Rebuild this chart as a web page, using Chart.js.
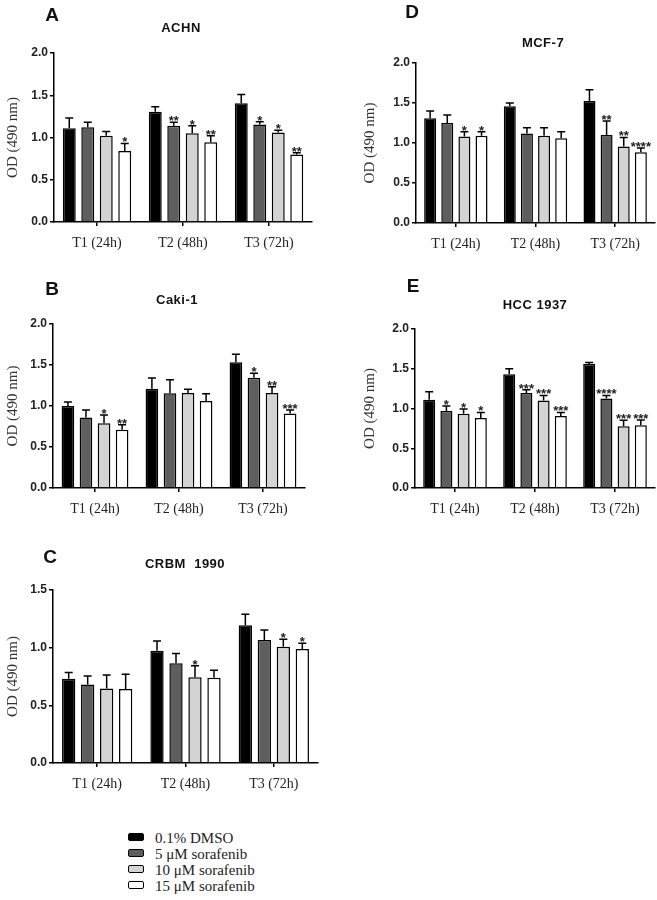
<!DOCTYPE html>
<html>
<head>
<meta charset="utf-8">
<script src="https://cdn.jsdelivr.net/npm/chart.js@4/dist/chart.umd.min.js"></script>
<style>
  html, body { margin: 0; padding: 0; background: #fff; }
  body { width: 657px; height: 900px; position: relative; overflow: hidden; }
  .panel { position: absolute; }
  .legend { position: absolute; left: 128px; top: 830px; font: 15px "Liberation Serif", serif; color: #222; }
  .legend div { height: 16px; line-height: 16px; white-space: nowrap; }
  .legend span { display: inline-block; width: 14px; height: 6px; border: 1.5px solid #000; border-radius: 2px; margin-right: 11px; vertical-align: 2px; }
</style>
</head>
<body>
<div class="legend" id="legend"></div>
<script>
'use strict';

// time points and treatments
var timeLabels = ['T1 (24h)', 'T2 (48h)', 'T3 (72h)'];
var treatments = ['0.1% DMSO', '5 \u03bcM sorafenib', '10 \u03bcM sorafenib', '15 \u03bcM sorafenib'];

// rows = treatments, columns = time points (OD 490 nm, mean / error, significance)
var achnMean = [[1.11, 1.305, 1.405], [1.12, 1.14, 1.155], [1.02, 1.05, 1.06], [0.84, 0.945, 0.80]];
var achnErr  = [[0.12, 0.06, 0.105], [0.06, 0.04, 0.03], [0.05, 0.09, 0.025], [0.09, 0.075, 0.02]];
var achnSig  = [['', '', ''], ['', '**', '*'], ['', '*', '*'], ['*', '**', '**']];

var cakiMean = [[1.00, 1.21, 1.535], [0.86, 1.155, 1.345], [0.79, 1.16, 1.16], [0.71, 1.06, 0.91]];
var cakiErr  = [[0.05, 0.13, 0.095], [0.09, 0.165, 0.055], [0.10, 0.045, 0.075], [0.06, 0.09, 0.04]];
var cakiSig  = [['', '', ''], ['', '', '*'], ['*', '', '**'], ['**', '', '***']];

var crbmMean = [[0.73, 0.973, 1.195], [0.68, 0.864, 1.066], [0.645, 0.743, 1.008], [0.642, 0.74, 0.988]];
var crbmErr  = [[0.055, 0.085, 0.095], [0.075, 0.086, 0.087], [0.118, 0.10, 0.064], [0.128, 0.065, 0.05]];
var crbmSig  = [['', '', ''], ['', '', ''], ['', '*', '*'], ['', '', '*']];

var mcfMean = [[1.31, 1.46, 1.525], [1.25, 1.12, 1.10], [1.08, 1.09, 0.955], [1.09, 1.06, 0.884]];
var mcfErr  = [[0.09, 0.04, 0.14], [0.10, 0.07, 0.175], [0.06, 0.10, 0.115], [0.05, 0.08, 0.055]];
var mcfSig  = [['', '', ''], ['', '', '**'], ['*', '', '**'], ['*', '', '****']];

var hccMean = [[1.11, 1.43, 1.56], [0.97, 1.195, 1.125], [0.935, 1.10, 0.776], [0.88, 0.905, 0.79]];
var hccErr  = [[0.10, 0.07, 0.02], [0.06, 0.04, 0.04], [0.06, 0.065, 0.075], [0.07, 0.045, 0.065]];
var hccSig  = [['', '', ''], ['*', '***', '****'], ['*', '***', '***'], ['*', '***', '***']];

var barColors = ['#000000', '#5e5e5e', '#d3d3d3', '#ffffff'];

// panel layout (page pixels)
var panels = [
  { letter: 'A', name: 'ACHN', mean: achnMean, err: achnErr, sig: achnSig, max: 2,
    box: [0, 0, 322, 258], area: [54, 53, 312, 222], letterAt: [52, 16], nameAt: [181, 28] },
  { letter: 'B', name: 'Caki-1', mean: cakiMean, err: cakiErr, sig: cakiSig, max: 2,
    box: [0, 262, 322, 258], area: [53, 324, 305, 488], letterAt: [52, 290], nameAt: [177, 300] },
  { letter: 'C', name: 'CRBM  1990', mean: crbmMean, err: crbmErr, sig: crbmSig, max: 1.5,
    box: [0, 528, 330, 272], area: [53, 590, 318, 763], letterAt: [50, 558], nameAt: [185, 564] },
  { letter: 'D', name: 'MCF-7', mean: mcfMean, err: mcfErr, sig: mcfSig, max: 2,
    box: [357, 0, 300, 258], area: [416, 63, 655, 223], letterAt: [412, 13], nameAt: [543, 43] },
  { letter: 'E', name: 'HCC 1937', mean: hccMean, err: hccErr, sig: hccSig, max: 2,
    box: [357, 262, 300, 258], area: [415, 329, 655, 488], letterAt: [413, 287], nameAt: [535, 305] }
];

var decoPlugin = {
  id: 'deco',
  afterDatasetsDraw: function(chart, args, opts) {
    var ctx = chart.ctx;
    var y = chart.scales.y;
    ctx.save();
    // error bars (upper only) and significance marks
    chart.data.datasets.forEach(function(ds, i) {
      var meta = chart.getDatasetMeta(i);
      meta.data.forEach(function(bar, j) {
        var top = y.getPixelForValue(ds.data[j] + ds.errors[j]);
        ctx.strokeStyle = '#000';
        ctx.lineWidth = 1.5;
        ctx.beginPath();
        ctx.moveTo(bar.x, bar.y);
        ctx.lineTo(bar.x, top);
        ctx.moveTo(bar.x - 4, top);
        ctx.lineTo(bar.x + 4, top);
        ctx.stroke();
        if (ds.marks[j]) {
          ctx.fillStyle = '#222';
          ctx.font = 'bold 13px "Liberation Sans", Arial, sans-serif';
          ctx.textAlign = 'center';
          ctx.textBaseline = 'alphabetic';
          ctx.fillText(ds.marks[j], bar.x, top + 3);
        }
      });
    });
    // panel letter and cell line name
    ctx.fillStyle = '#111';
    ctx.textAlign = 'center';
    ctx.textBaseline = 'middle';
    ctx.font = 'bold 19px "Liberation Sans", Arial, sans-serif';
    ctx.fillText(opts.letter, opts.letterAt[0], opts.letterAt[1]);
    ctx.font = 'bold 13px "Liberation Sans", Arial, sans-serif';
    ctx.letterSpacing = '0.5px';
    ctx.fillText(opts.name, opts.nameAt[0], opts.nameAt[1]);
    ctx.restore();
  }
};

function makePanel(p) {
  var bx = p.box[0], by = p.box[1], bw = p.box[2], bh = p.box[3];
  var holder = document.createElement('div');
  holder.className = 'panel';
  holder.style.left = bx + 'px';
  holder.style.top = by + 'px';
  var canvas = document.createElement('canvas');
  canvas.width = bw;
  canvas.height = bh;
  holder.appendChild(canvas);
  document.body.appendChild(holder);

  var yWidth = p.area[0] - bx;
  var xHeight = by + bh - p.area[3];

  new Chart(canvas, {
    type: 'bar',
    data: {
      labels: timeLabels,
      datasets: treatments.map(function(t, i) {
        return {
          label: t,
          data: p.mean[i],
          errors: p.err[i],
          marks: p.sig[i],
          backgroundColor: barColors[i],
          borderColor: '#000',
          borderWidth: 1.5,
          categoryPercentage: 0.86,
          barPercentage: 0.7
        };
      })
    },
    options: {
      responsive: false,
      animation: false,
      devicePixelRatio: 1,
      layout: { padding: { top: p.area[1] - by, right: bx + bw - p.area[2], left: 0, bottom: 0 } },
      plugins: {
        legend: { display: false },
        tooltip: { enabled: false },
        deco: {
          letter: p.letter,
          letterAt: [p.letterAt[0] - bx, p.letterAt[1] - by],
          name: p.name,
          nameAt: [p.nameAt[0] - bx, p.nameAt[1] - by]
        }
      },
      scales: {
        x: {
          offset: true,
          afterFit: function(s) { s.height = xHeight; },
          grid: { offset: false, drawOnChartArea: false, drawTicks: true, tickLength: 4, color: '#000', lineWidth: 1.5 },
          border: { color: '#000', width: 1.5 },
          ticks: { color: '#222', font: { family: '"Liberation Serif", serif', size: 14 }, padding: 9, maxRotation: 0 }
        },
        y: {
          min: 0,
          max: p.max,
          afterFit: function(s) { s.width = yWidth; },
          grid: { drawOnChartArea: false, drawTicks: true, tickLength: 4, color: '#000', lineWidth: 1.5 },
          border: { color: '#000', width: 1.5 },
          ticks: {
            stepSize: 0.5,
            padding: 2,
            color: '#222',
            font: { family: '"Liberation Sans", Arial, sans-serif', size: 12, weight: 'bold' },
            callback: function(v) { return v.toFixed(1); }
          },
          title: {
            display: true,
            text: 'OD (490 nm)',
            color: '#333',
            font: { family: '"Liberation Serif", serif', size: 15 }
          }
        }
      }
    },
    plugins: [decoPlugin]
  });
}

panels.forEach(makePanel);

var legendEl = document.getElementById('legend');
treatments.forEach(function(t, i) {
  var row = document.createElement('div');
  var sw = document.createElement('span');
  sw.style.background = barColors[i];
  row.appendChild(sw);
  row.appendChild(document.createTextNode(t));
  legendEl.appendChild(row);
});
</script>
</body>
</html>
